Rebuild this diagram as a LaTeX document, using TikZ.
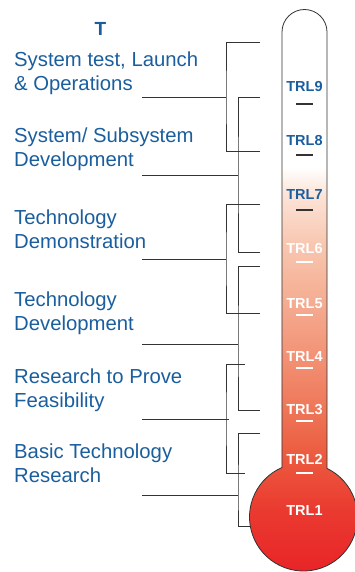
\documentclass[tikz,border=0pt]{standalone}
\usepackage{fontspec}
\setmainfont{Liberation Sans}
\definecolor{trlblue}{HTML}{1A5E9E}
\definecolor{linegray}{HTML}{333333}
\definecolor{red0}{HTML}{E82226}
\definecolor{red1}{HTML}{EA3A30}
\definecolor{red2}{HTML}{EC5C40}
\definecolor{red3}{HTML}{EF7A5C}
\definecolor{red4}{HTML}{F3967A}
\definecolor{red5}{HTML}{F5B095}
\definecolor{red6}{HTML}{F8C8B2}
\definecolor{red7}{HTML}{FCE4D8}
\pgfdeclareverticalshading{thermo}{100bp}{color(0bp)=(red0); color(25bp)=(red0);
  color(31bp)=(red1); color(36bp)=(red2); color(40.5bp)=(red3); color(45.3bp)=(red4);
  color(50bp)=(red5); color(54.6bp)=(red6); color(58.8bp)=(red7);
  color(61.2bp)=(white); color(100bp)=(white)}
\tikzset{
  stage/.style = {anchor=base west, align=left, inner sep=0pt,
                  text=trlblue, font=\fontsize{20.3}{24}\selectfont},
  trl/.style = {inner sep=0pt, font=\fontsize{14.5}{14.5}\selectfont\bfseries},
  bracket/.style = {draw=linegray, line width=1pt},
  tick/.style = {line width=1.3pt}
}

\begin{document}
\begin{tikzpicture}[x=1pt, y=-1pt]
	\useasboundingbox (0,0) rectangle (354,572);

	% Thermometer: tube + bulb
	\shade[shading=thermo, draw=linegray, line width=0.8pt]
		(282,32) arc (180:360:22.5) -- (327,468.4) arc (-64.2:246.5:54) -- cycle;

	% Levels
	\node[trl, text=trlblue] (trl9) at (304.5,87)  {TRL9};
	\node[trl, text=trlblue] (trl8) at (304.5,141) {TRL8};
	\node[trl, text=trlblue] (trl7) at (304.5,195) {TRL7};
	\node[trl, text=white]   (trl6) at (304.5,249) {TRL6};
	\node[trl, text=white]   (trl5) at (304.5,304) {TRL5};
	\node[trl, text=white]   (trl4) at (304.5,357) {TRL4};
	\node[trl, text=white]   (trl3) at (304.5,410) {TRL3};
	\node[trl, text=white]   (trl2) at (304.5,459) {TRL2};
	\node[trl, text=white]   (trl1) at (304.5,511) {TRL1};

	% Ticks
	\draw[tick, linegray] (296,104) -- (313,104); % 9
	\draw[tick, linegray] (296,155) -- (313,155); % 8
	\draw[tick, linegray] (296,210) -- (313,210); % 7
	\draw[tick, white]    (296,262) -- (313,262); % 6
	\draw[tick, white]    (296,315) -- (313,315); % 5
	\draw[tick, white]    (296,368) -- (313,368); % 4
	\draw[tick, white]    (296,421) -- (313,421); % 3
	\draw[tick, white]    (296,473) -- (313,473); % 2

	% Title
	\node[inner sep=0pt, anchor=base, text=trlblue, font=\fontsize{19}{19}\selectfont\bfseries] (title) at (100.5,35.7) {T};

	% Stages (anchored on the second line's baseline)
	\node[stage] (ops)     at (14,90.5)  {System test, Launch\\\& Operations};
	\node[stage] (sysdev)  at (14,166.7) {System/ Subsystem\\Development};
	\node[stage] (demo)    at (14,248.3) {Technology\\Demonstration};
	\node[stage] (techdev) at (14,330.7) {Technology\\Development};
	\node[stage] (feas)    at (14,407.3) {Research to Prove\\Feasibility};
	\node[stage] (basic)   at (14,482.5) {Basic Technology\\Research};

	% Bracket ends
	\coordinate (ops top)     at (260,43);
	\coordinate (ops bot)     at (260,152);
	\coordinate (sysdev top)  at (260,98);
	\coordinate (sysdev bot)  at (260,252);
	\coordinate (demo top)    at (260,204);
	\coordinate (demo bot)    at (260,313);
	\coordinate (techdev top) at (260,266);
	\coordinate (techdev bot) at (260,410);
	\coordinate (feas top)    at (245,364);
	\coordinate (feas bot)    at (245,473);
	\coordinate (basic top)   at (260,433);
	\coordinate (basic bot)   at (250.3,526);

	% Stems
	\coordinate (ops stem)     at (142,98);
	\coordinate (sysdev stem)  at (142,175);
	\coordinate (demo stem)    at (142,259);
	\coordinate (techdev stem) at (142,344);
	\coordinate (feas stem)    at (142,419);
	\coordinate (basic stem)   at (142,495);

	% Spines (outer 226, inner 238)
	\coordinate (ops spine)     at (226,98);
	\coordinate (sysdev spine)  at (238,175);
	\coordinate (demo spine)    at (226,259);
	\coordinate (techdev spine) at (238,344);
	\coordinate (feas spine)    at (226,419);
	\coordinate (basic spine)   at (238,495);

	% Brackets
	\draw[bracket] (ops top) -| (ops spine) |- (ops bot);
	\draw[bracket] (ops stem) -- (ops spine);
	\draw[bracket] (sysdev top) -| (sysdev spine) |- (sysdev bot);
	\draw[bracket] (sysdev stem) -- (sysdev spine);
	\draw[bracket] (demo top) -| (demo spine) |- (demo bot);
	\draw[bracket] (demo stem) -- (demo spine);
	\draw[bracket] (techdev top) -| (techdev spine) |- (techdev bot);
	\draw[bracket] (techdev stem) -- (techdev spine);
	\draw[bracket] (feas top) -| (feas spine) |- (feas bot);
	\draw[bracket] (feas stem) -- ([xshift=3pt]feas spine);
	\draw[bracket] (basic top) -| (basic spine) |- (basic bot);
	\draw[bracket] (basic stem) -- (basic spine);
\end{tikzpicture}
\end{document}
